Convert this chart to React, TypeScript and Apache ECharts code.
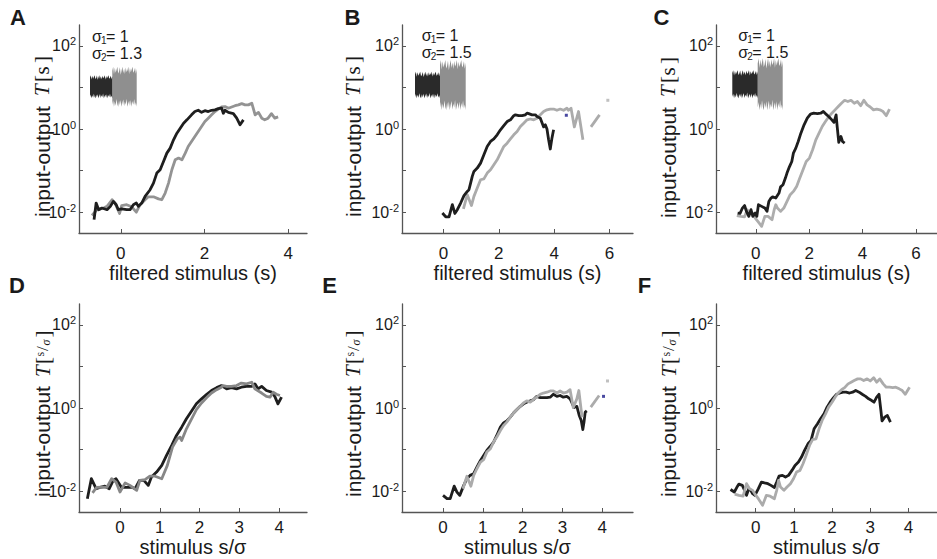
import React, { useEffect, useRef } from "react";
import * as echarts from "echarts";

type P = [number, number];

// ---------- data: [x, log10 T] ----------
const aBlack: P[] = [[-0.64,-2.18],[-0.59,-1.78],[-0.53,-1.94],[-0.45,-1.90],[-0.33,-1.94],[-0.25,-1.86],[-0.18,-1.74],[-0.11,-1.82],[-0.06,-1.94],[0.02,-1.92],[0.14,-1.94],[0.22,-1.94],[0.30,-1.82],[0.37,-1.78],[0.42,-1.86],[0.50,-1.78],[0.58,-1.62],[0.70,-1.46],[0.78,-1.30],[0.86,-1.06],[0.94,-0.98],[1.02,-0.78],[1.10,-0.58],[1.18,-0.46],[1.26,-0.26],[1.34,-0.10],[1.42,0.02],[1.50,0.14],[1.58,0.22],[1.69,0.34],[1.77,0.42],[1.85,0.45],[1.93,0.40],[2.01,0.44],[2.09,0.42],[2.17,0.45],[2.25,0.46],[2.33,0.49],[2.41,0.50],[2.45,0.38],[2.49,0.45],[2.57,0.40],[2.69,0.37],[2.77,0.26],[2.85,0.10],[2.93,0.22]];
const aGray: P[] = [[-0.69,-2.08],[-0.57,-1.94],[-0.41,-1.90],[-0.33,-1.86],[-0.21,-1.70],[-0.14,-1.78],[-0.03,-2.03],[0.02,-1.84],[0.14,-1.82],[0.26,-1.87],[0.37,-2.00],[0.46,-1.82],[0.58,-1.70],[0.66,-1.63],[0.78,-1.63],[0.90,-1.68],[0.98,-1.70],[1.06,-1.54],[1.14,-1.30],[1.22,-0.98],[1.30,-0.74],[1.38,-0.70],[1.46,-0.74],[1.54,-0.58],[1.61,-0.42],[1.69,-0.30],[1.77,-0.18],[1.85,-0.06],[1.93,0.06],[2.01,0.18],[2.09,0.26],[2.17,0.34],[2.25,0.42],[2.33,0.48],[2.41,0.53],[2.49,0.54],[2.57,0.50],[2.65,0.53],[2.73,0.56],[2.81,0.58],[2.89,0.61],[2.97,0.58],[3.05,0.58],[3.13,0.62],[3.21,0.34],[3.29,0.40],[3.37,0.26],[3.44,0.22],[3.52,0.26],[3.60,0.37],[3.68,0.26],[3.76,0.29]];

const bBlack: P[] = [[-0.04,-2.02],[0.08,-2.11],[0.20,-2.11],[0.32,-1.82],[0.41,-2.03],[0.50,-1.94],[0.62,-1.78],[0.74,-1.60],[0.86,-1.50],[0.92,-1.46],[0.98,-1.30],[1.04,-1.14],[1.10,-1.02],[1.22,-0.94],[1.34,-0.82],[1.46,-0.62],[1.58,-0.42],[1.70,-0.30],[1.82,-0.24],[1.94,-0.14],[2.06,-0.02],[2.18,0.08],[2.30,0.18],[2.42,0.22],[2.54,0.32],[2.60,0.34],[2.72,0.32],[2.84,0.32],[2.96,0.34],[3.02,0.38],[3.08,0.37],[3.20,0.34],[3.32,0.34],[3.38,0.30],[3.50,0.26],[3.62,0.05],[3.68,0.10],[3.74,0.00],[3.80,-0.26],[3.86,-0.48],[3.92,-0.22],[3.98,-0.02]];
const bGray: P[] = [[0.72,-1.92],[0.86,-1.58],[1.01,-1.84],[1.10,-1.62],[1.22,-1.42],[1.34,-1.22],[1.46,-1.20],[1.58,-1.06],[1.70,-0.98],[1.82,-0.86],[1.94,-0.74],[2.06,-0.58],[2.18,-0.42],[2.30,-0.34],[2.42,-0.24],[2.54,-0.14],[2.66,-0.06],[2.78,0.06],[2.90,0.14],[3.02,0.22],[3.14,0.24],[3.26,0.22],[3.38,0.26],[3.50,0.34],[3.62,0.42],[3.74,0.46],[3.86,0.48],[3.98,0.48],[4.10,0.45],[4.22,0.48],[4.34,0.45],[4.46,0.50],[4.52,0.45],[4.61,0.50],[4.73,0.05],[4.88,0.42],[5.04,-0.26]];
const bGrayTail: P[] = [[5.33,0.05],[5.64,0.34]];
const bGrayDot: P[] = [[5.94,0.69]];
const bBlueDot: P[] = [[4.44,0.33]];

const cBlack: P[] = [[-0.68,-2.02],[-0.59,-2.03],[-0.50,-1.90],[-0.42,-1.84],[-0.35,-1.98],[-0.26,-2.10],[-0.18,-1.94],[-0.11,-2.10],[-0.02,-2.02],[0.04,-2.10],[0.10,-1.82],[0.22,-1.86],[0.34,-1.90],[0.42,-1.98],[0.49,-1.74],[0.57,-1.66],[0.63,-1.63],[0.75,-1.66],[0.87,-1.54],[0.93,-1.39],[1.02,-1.34],[1.11,-1.18],[1.17,-1.06],[1.26,-0.91],[1.35,-0.78],[1.41,-0.58],[1.50,-0.46],[1.59,-0.30],[1.69,-0.10],[1.81,0.10],[1.93,0.26],[2.05,0.36],[2.17,0.38],[2.31,0.37],[2.43,0.38],[2.53,0.42],[2.61,0.37],[2.73,0.30],[2.85,0.22],[2.93,0.16],[3.01,0.34],[3.05,0.06],[3.11,-0.32],[3.19,-0.18],[3.25,-0.30],[3.33,-0.34]];
const cGray: P[] = [[-0.71,-2.08],[-0.56,-2.10],[-0.42,-2.11],[-0.32,-1.94],[-0.23,-2.03],[-0.11,-2.02],[-0.02,-2.14],[0.10,-2.24],[0.22,-2.34],[0.34,-2.10],[0.46,-2.10],[0.61,-2.18],[0.69,-1.94],[0.75,-1.82],[0.81,-1.90],[0.93,-1.98],[1.05,-1.90],[1.17,-1.74],[1.29,-1.58],[1.41,-1.50],[1.53,-1.38],[1.65,-1.18],[1.77,-0.98],[1.89,-0.78],[2.01,-0.70],[2.13,-0.50],[2.25,-0.26],[2.37,-0.10],[2.49,0.06],[2.61,0.18],[2.73,0.29],[2.85,0.38],[2.97,0.46],[3.09,0.54],[3.21,0.62],[3.33,0.69],[3.45,0.66],[3.57,0.69],[3.69,0.62],[3.81,0.66],[3.93,0.56],[4.05,0.69],[4.17,0.58],[4.29,0.53],[4.41,0.46],[4.53,0.48],[4.65,0.46],[4.77,0.42],[4.89,0.32],[5.01,0.48]];

const dBlack: P[] = [[-0.82,-2.18],[-0.72,-1.70],[-0.60,-1.94],[-0.50,-1.91],[-0.38,-1.88],[-0.27,-1.94],[-0.17,-1.74],[-0.10,-1.70],[-0.02,-1.82],[0.04,-1.91],[0.17,-1.91],[0.29,-1.90],[0.38,-1.94],[0.49,-1.74],[0.60,-1.74],[0.71,-1.86],[0.79,-1.66],[0.92,-1.54],[1.05,-1.38],[1.17,-1.14],[1.30,-0.90],[1.42,-0.66],[1.55,-0.46],[1.67,-0.26],[1.80,-0.07],[1.92,0.10],[2.05,0.22],[2.18,0.33],[2.30,0.42],[2.43,0.49],[2.55,0.54],[2.68,0.46],[2.80,0.49],[2.93,0.46],[3.05,0.50],[3.18,0.52],[3.31,0.52],[3.39,0.58],[3.47,0.46],[3.56,0.52],[3.68,0.42],[3.81,0.38],[3.89,0.28],[3.97,0.10],[4.06,0.26]];
const dGray: P[] = [[-0.69,-2.04],[-0.59,-1.91],[-0.46,-1.90],[-0.33,-1.91],[-0.21,-1.70],[-0.10,-1.78],[0.00,-2.02],[0.13,-1.80],[0.25,-1.86],[0.42,-1.98],[0.50,-1.74],[0.63,-1.72],[0.75,-1.64],[0.88,-1.64],[1.05,-1.70],[1.19,-1.38],[1.32,-0.94],[1.44,-0.74],[1.51,-0.70],[1.55,-0.78],[1.67,-0.50],[1.80,-0.26],[1.92,-0.04],[2.05,0.12],[2.18,0.25],[2.30,0.36],[2.43,0.44],[2.55,0.50],[2.59,0.54],[2.68,0.52],[2.80,0.52],[2.93,0.54],[3.05,0.60],[3.18,0.58],[3.31,0.62],[3.39,0.46],[3.56,0.36],[3.68,0.28],[3.77,0.26],[3.85,0.38],[3.93,0.33],[4.02,0.30]];

const eBlack: P[] = [[0.00,-2.10],[0.10,-2.18],[0.18,-2.18],[0.28,-1.88],[0.35,-2.02],[0.42,-2.10],[0.52,-1.86],[0.60,-1.70],[0.68,-1.62],[0.77,-1.58],[0.85,-1.42],[0.94,-1.26],[1.02,-1.14],[1.10,-1.02],[1.19,-0.92],[1.27,-0.82],[1.35,-0.66],[1.44,-0.46],[1.52,-0.36],[1.60,-0.31],[1.69,-0.22],[1.77,-0.12],[1.85,-0.04],[1.94,0.04],[2.02,0.10],[2.10,0.14],[2.19,0.17],[2.27,0.20],[2.35,0.28],[2.44,0.25],[2.52,0.25],[2.61,0.25],[2.69,0.26],[2.77,0.33],[2.86,0.28],[2.94,0.30],[3.02,0.26],[3.11,0.28],[3.19,0.22],[3.23,0.14],[3.29,0.01],[3.36,0.04],[3.42,-0.18],[3.47,-0.30],[3.51,-0.52],[3.54,-0.34],[3.57,-0.10],[3.61,-0.07]];
const eGray: P[] = [[0.50,-1.94],[0.60,-1.64],[0.70,-1.88],[0.77,-1.62],[0.85,-1.46],[0.94,-1.30],[1.02,-1.24],[1.10,-1.06],[1.19,-0.98],[1.27,-0.82],[1.35,-0.70],[1.44,-0.54],[1.52,-0.42],[1.60,-0.34],[1.69,-0.22],[1.77,-0.12],[1.85,-0.04],[1.94,0.04],[2.02,0.12],[2.10,0.17],[2.19,0.14],[2.27,0.20],[2.35,0.26],[2.44,0.33],[2.52,0.36],[2.61,0.38],[2.69,0.41],[2.77,0.41],[2.86,0.36],[2.94,0.41],[3.02,0.36],[3.11,0.38],[3.19,0.44],[3.27,0.01],[3.36,0.22],[3.41,0.42],[3.49,-0.22]];
const eGrayTail: P[] = [[3.71,0.02],[3.92,0.30]];
const eGrayDot: P[] = [[4.13,0.65]];
const eBlueDot: P[] = [[4.03,0.28]];

const fBlack: P[] = [[-0.66,-1.96],[-0.56,-2.02],[-0.49,-1.90],[-0.44,-1.83],[-0.35,-1.86],[-0.29,-1.98],[-0.24,-2.10],[-0.18,-1.94],[-0.13,-1.98],[-0.08,-2.06],[-0.02,-2.10],[0.07,-1.94],[0.15,-1.78],[0.23,-1.80],[0.32,-1.82],[0.40,-1.86],[0.49,-1.91],[0.55,-1.78],[0.61,-1.64],[0.70,-1.62],[0.78,-1.66],[0.86,-1.62],[0.95,-1.50],[1.03,-1.38],[1.12,-1.30],[1.20,-1.18],[1.28,-1.02],[1.37,-0.86],[1.45,-0.78],[1.53,-0.50],[1.62,-0.38],[1.70,-0.26],[1.79,-0.14],[1.87,0.02],[1.95,0.14],[2.04,0.25],[2.12,0.33],[2.21,0.36],[2.29,0.38],[2.37,0.38],[2.46,0.36],[2.54,0.38],[2.62,0.42],[2.71,0.38],[2.79,0.33],[2.88,0.28],[2.96,0.22],[3.04,0.18],[3.10,0.14],[3.17,0.26],[3.23,0.33],[3.28,-0.06],[3.31,-0.31],[3.38,-0.22],[3.45,-0.18],[3.53,-0.34]];
const fGray: P[] = [[-0.55,-2.07],[-0.44,-2.10],[-0.33,-2.12],[-0.24,-1.82],[-0.16,-1.94],[-0.08,-1.98],[-0.02,-2.07],[0.07,-2.18],[0.18,-2.34],[0.28,-2.10],[0.38,-2.12],[0.49,-2.18],[0.55,-1.98],[0.60,-1.74],[0.65,-1.90],[0.74,-1.98],[0.82,-1.90],[0.91,-1.82],[0.99,-1.70],[1.07,-1.54],[1.16,-1.50],[1.24,-1.34],[1.32,-1.14],[1.41,-0.90],[1.49,-0.76],[1.58,-0.74],[1.66,-0.50],[1.74,-0.30],[1.83,-0.14],[1.91,0.02],[2.00,0.14],[2.08,0.26],[2.16,0.36],[2.25,0.44],[2.33,0.49],[2.42,0.58],[2.50,0.62],[2.58,0.66],[2.67,0.70],[2.75,0.70],[2.83,0.66],[2.92,0.70],[3.00,0.65],[3.09,0.73],[3.17,0.62],[3.25,0.70],[3.34,0.58],[3.42,0.50],[3.51,0.50],[3.59,0.49],[3.67,0.50],[3.76,0.46],[3.84,0.42],[3.92,0.33],[4.03,0.50]];

// tick values (log10 for y)
const yTickValues = [-2, -1, 0, 1, 2];
const yLabelValues = [-2, 0, 2];
const xTicksA = [0, 2, 4];
const xTicksBC = [0, 2, 4, 6];
const xTicksDEF = [0, 1, 2, 3, 4];

const sigmaTexts = [
  ["1", "= 1", "2", "= 1.3"],
  ["1", "= 1", "2", "= 1.5"],
  ["1", "= 1", "2", "= 1.5"],
];

// hand-drawn envelope for the inset noise waveform
const NOISE_TOP = [0.8,1,0.62,0.95,0.7,0.84,1,0.66,0.76,0.97,0.6,0.8,1,0.68,0.9,0.64,0.96,0.74,0.82,1,0.63,0.93,0.72,0.86,1,0.7,0.78,0.95,0.65,0.9];
const NOISE_BOT = [0.9,0.68,1,0.74,0.95,0.62,0.88,1,0.7,0.92,0.66,1,0.8,0.64,0.98,0.75,0.9,0.6,1,0.83,0.7,0.96,0.66,1,0.72,0.9,0.62,0.94,0.78,1];

const FONT = '"Liberation Sans", Arial, sans-serif';
const SERIF = '"Liberation Serif", "Times New Roman", serif';
const INK = "#1a1a1a";
const AXIS = "#555555";
const BLACK = "#1e1e1e";

const panels = [
  { left: 79, top: 25, width: 228, min: -1.0, max: 4.45, ticks: xTicksA, black: aBlack, gray: aGray, grayColor: "#939393", xName: "filtered stimulus (s)", gap: 23, lgap: 12, grayTop: false },
  { left: 402, top: 25, width: 231, min: -1.5, max: 6.85, ticks: xTicksBC, black: bBlack, gray: bGray, grayColor: "#ababab", xName: "filtered stimulus (s)", gap: 23, lgap: 12, grayTop: false, tail: bGrayTail, dot: bGrayDot, blue: bBlueDot },
  { left: 716, top: 25, width: 230, min: -1.49, max: 6.79, ticks: xTicksBC, black: cBlack, gray: cGray, grayColor: "#adadad", xName: "filtered stimulus (s)", gap: 23, lgap: 12, grayTop: false },
  { left: 79, top: 304, width: 228, min: -1.03, max: 4.7, ticks: xTicksDEF, black: dBlack, gray: dGray, grayColor: "#878787", xName: "stimulus s/σ", gap: 18, lgap: 7, grayTop: true },
  { left: 402, top: 304, width: 231, min: -1.03, max: 4.77, ticks: xTicksDEF, black: eBlack, gray: eGray, grayColor: "#ababab", xName: "stimulus s/σ", gap: 18, lgap: 7, grayTop: true, tail: eGrayTail, dot: eGrayDot, blue: eBlueDot },
  { left: 716, top: 304, width: 230, min: -1.04, max: 4.75, ticks: xTicksDEF, black: fBlack, gray: fGray, grayColor: "#ababab", xName: "stimulus s/σ", gap: 18, lgap: 7, grayTop: true },
];

const letters = [
  { t: "A", x: 18, y: 17.5 },
  { t: "B", x: 352.5, y: 17.5 },
  { t: "C", x: 661.5, y: 17.5 },
  { t: "D", x: 17, y: 285.5 },
  { t: "E", x: 329.5, y: 285.5 },
  { t: "F", x: 644.5, y: 285.5 },
];

const yNamePos = [
  { x: 42, y: 217, frac: false },
  { x: 353, y: 217, frac: false },
  { x: 668, y: 218, frac: false },
  { x: 42.5, y: 497, frac: true },
  { x: 353, y: 497, frac: true },
  { x: 668.5, y: 497, frac: true },
];

const insets = [
  { tx: 92, ty1: 36, ty2: 53, bx0: 90, bx1: 112.3, gx1: 136.7, cy: 86.7, bh: 11.5, gh: 20 },
  { tx: 421.7, ty1: 35, ty2: 52, bx0: 415, bx1: 440, gx1: 465.7, cy: 85, bh: 13.3, gh: 25 },
  { tx: 738.3, ty1: 35, ty2: 52, bx0: 732.3, bx1: 757.7, gx1: 782.7, cy: 84.2, bh: 14, gh: 26 },
];

function txt(x: number, y: number, text: string, font: string, align = "left", extra: any = {}) {
  return {
    type: "text",
    x,
    y,
    silent: true,
    style: {
      text,
      font,
      fill: INK,
      align,
      textAlign: align,
      verticalAlign: "middle",
      textVerticalAlign: "middle",
      ...extra,
    },
  };
}

function noiseBlock(x0: number, x1: number, cy: number, h: number, color: string) {
  const n = NOISE_TOP.length;
  const pts: number[][] = [];
  for (let i = 0; i < n; i++) pts.push([x0 + ((x1 - x0) * i) / (n - 1), cy - h * NOISE_TOP[i]]);
  for (let i = n - 1; i >= 0; i--) pts.push([x0 + ((x1 - x0) * i) / (n - 1), cy + h * NOISE_BOT[i]]);
  return { type: "polygon", silent: true, shape: { points: pts }, style: { fill: color } };
}

function buildOption() {
  const grid: any[] = [];
  const xAxis: any[] = [];
  const yAxis: any[] = [];
  const series: any[] = [];
  panels.forEach((p, i) => {
    grid.push({ left: p.left, top: p.top, width: p.width, height: 208, containLabel: false });
    xAxis.push({
      type: "value",
      gridIndex: i,
      min: p.min,
      max: p.max,
      name: p.xName,
      nameLocation: "middle",
      nameGap: p.gap,
      nameTextStyle: { fontSize: 20, fontFamily: FONT, color: INK, verticalAlign: "top" },
      axisLine: { show: true, onZero: false, lineStyle: { color: AXIS, width: 1.3 } },
      axisTick: { show: true, inside: true, length: 4, customValues: p.ticks, lineStyle: { color: AXIS, width: 1 } },
      axisLabel: { customValues: p.ticks, fontSize: 17, fontFamily: FONT, color: INK, margin: p.lgap },
      splitLine: { show: false },
    });
    yAxis.push({
      type: "value",
      gridIndex: i,
      min: -2.5,
      max: 2.5,
      axisLine: { show: true, onZero: false, lineStyle: { color: AXIS, width: 1.3 } },
      axisTick: { show: true, inside: true, length: 4, customValues: yTickValues, lineStyle: { color: AXIS, width: 1 } },
      axisLabel: {
        customValues: yLabelValues,
        margin: 3,
        formatter: (v: number) => `{b|10}{s|${Math.round(v)}}`,
        rich: {
          b: { fontSize: 16, fontFamily: FONT, color: INK },
          s: { fontSize: 11, fontFamily: FONT, color: INK, padding: [0, 0, 9, 0] },
        },
      },
      splitLine: { show: false },
    });
    const mk = (data: P[], color: string, z: number) => ({
      type: "line",
      xAxisIndex: i,
      yAxisIndex: i,
      data,
      symbol: "none",
      showSymbol: false,
      silent: true,
      z,
      lineStyle: { color, width: 2.8, join: "round" },
      itemStyle: { color },
    });
    series.push(mk(p.black, BLACK, p.grayTop ? 3 : 4));
    series.push(mk(p.gray, p.grayColor, p.grayTop ? 4 : 3));
    if (p.tail) series.push(mk(p.tail, p.grayColor, 3));
    if (p.dot)
      series.push({ type: "scatter", xAxisIndex: i, yAxisIndex: i, data: p.dot, symbol: "rect", symbolSize: 3, silent: true, itemStyle: { color: "#b0b0b0" } });
    if (p.blue)
      series.push({ type: "scatter", xAxisIndex: i, yAxisIndex: i, data: p.blue, symbol: "rect", symbolSize: 3, silent: true, itemStyle: { color: "#1c1c8a" } });
  });

  const graphic: any[] = [];
  letters.forEach((l) => graphic.push(txt(l.x, l.y, l.t, `bold 22px ${FONT}`, "center")));

  yNamePos.forEach((g) => {
    const children: any[] = [txt(0, 0, "input-output", `21px ${FONT}`)];
    if (!g.frac) {
      children.push(txt(121, 0, "T", `italic 21px ${SERIF}`));
      children.push(txt(135, 0, "[", `21px ${SERIF}`));
      children.push(txt(142.5, 0, "s", `21px ${SERIF}`));
      children.push(txt(154, 0, "]", `21px ${SERIF}`));
    } else {
      children.push(txt(120, 0, "T", `italic 21px ${SERIF}`));
      children.push(txt(133, 0, "[", `21px ${SERIF}`));
      children.push(txt(140.5, -3, "s", `12px ${SERIF}`));
      children.push(txt(146, 0, "/", `17px ${SERIF}`));
      children.push(txt(151.5, 3, "σ", `italic 12px ${SERIF}`));
      children.push(txt(159.5, 0, "]", `21px ${SERIF}`));
    }
    graphic.push({ type: "group", x: g.x, y: g.y, rotation: Math.PI / 2, children });
  });

  insets.forEach((s, i) => {
    const t = sigmaTexts[i];
    graphic.push(txt(s.tx, s.ty1, "σ", `16px ${FONT}`));
    graphic.push(txt(s.tx + 9, s.ty1 + 4.5, t[0], `10px ${FONT}`));
    graphic.push(txt(s.tx + 14, s.ty1, t[1], `16px ${FONT}`));
    graphic.push(txt(s.tx, s.ty2, "σ", `16px ${FONT}`));
    graphic.push(txt(s.tx + 9, s.ty2 + 4.5, t[2], `10px ${FONT}`));
    graphic.push(txt(s.tx + 14, s.ty2, t[3], `16px ${FONT}`));
    graphic.push(noiseBlock(s.bx1, s.gx1, s.cy, s.gh, "#8f8f8f"));
    graphic.push(noiseBlock(s.bx0, s.bx1, s.cy, s.bh, "#2a2a2a"));
  });

  return { animation: false, backgroundColor: "#ffffff", grid, xAxis, yAxis, series, graphic };
}

export default function App() {
  const ref = useRef<HTMLDivElement>(null);
  useEffect(() => {
    if (!ref.current) return;
    const chart = echarts.init(ref.current, undefined, { renderer: "svg" });
    chart.setOption(buildOption() as any);
    return () => chart.dispose();
  }, []);
  return (
    <div
      ref={ref}
      style={{ position: "fixed", left: 0, top: 0, width: 937, height: 559, background: "#fff" }}
    />
  );
}
